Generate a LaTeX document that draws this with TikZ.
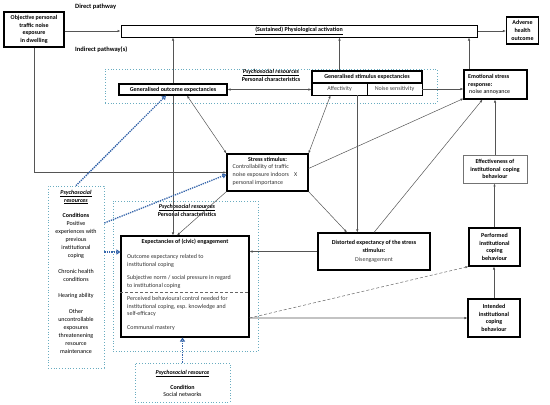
\documentclass[tikz,border=0pt]{standalone}
\usepackage{fontspec}
\setmainfont{Carlito}
\usepackage{amsmath}
\usetikzlibrary{arrows.meta}
\definecolor{resteal}{RGB}{105,172,192}
\definecolor{resblue}{RGB}{52,100,170}
\definecolor{linegray}{RGB}{85,85,85}
\definecolor{bargray}{RGB}{195,195,195}
\newcommand{\psyres}[1]{\underline{\textbf{\textit{#1}}}}

\begin{document}
\begin{tikzpicture}[x=1pt,y=-1pt,
                >={Latex[length=3pt,width=2.4pt]},
                every node/.style={font=\fontsize{6}{7.8}\selectfont, inner sep=0pt},
                box/.style={draw, line width=1.1pt, align=center},
                cellbox/.style={draw, line width=0.6pt, align=center, text=black!75},
                resbox/.style={draw=resteal, dotted, line width=0.8pt},
                link/.style={draw=linegray, line width=0.5pt},
                blink/.style={draw=resblue, densely dotted, line width=1.3pt, -{Triangle[open,length=4pt,width=5pt]}}]
                \useasboundingbox (0,0) rectangle (550,405);
                \node[anchor=west, font=\fontsize{6.5}{8}\selectfont\bfseries] (direct) at (75,7) {Direct pathway};
                \node[anchor=west, font=\fontsize{6.5}{8}\selectfont\bfseries] (indirect) at (75,50) {Indirect pathway(s)};
                \node[box, minimum width=60pt, minimum height=35pt, font=\fontsize{6}{7.7}\selectfont\bfseries] (obj) at (34,29.5) {Objective personal\\traffic noise\\exposure\\in dwelling};
                \node[box, line width=1pt, minimum width=356pt, minimum height=12pt] (phys) at (299,31) {\textbf{\underline{(Sustained) Physiological activation}}};
                \node[box, minimum width=32pt, minimum height=27pt, font=\fontsize{6}{7.8}\selectfont\bfseries] (adverse) at (522.5,30.5) {Adverse\\health\\outcome};
                \node[resbox, minimum width=332pt, minimum height=34pt] (topres) at (271,86) {};
                \node[align=center] (topreslabel) at (271,75.5) {\psyres{Psychosocial resources}\\[0.6pt]\textbf{Personal characteristics}};
                \node[box, minimum width=108pt, minimum height=11pt] (genout) at (173,89.5) {\textbf{Generalised outcome expectancies}};
                \node[box, minimum width=110pt, minimum height=12pt] (genstim) at (367,77) {\textbf{Generalised stimulus expectancies}};
                \node[cellbox, minimum width=55pt, minimum height=12pt] (affect) at (339.5,89) {Affectivity};
                \node[cellbox, minimum width=55pt, minimum height=12pt] (noise) at (394.5,89) {Noise sensitivity};
                \draw[line width=1.1pt] (genstim.north west) rectangle (noise.south east);
                \node[box, minimum width=63pt, minimum height=29pt] (emo) at (495.5,84.5) {};
                \node[anchor=west, align=left] (emotext) at (468,84.5) {\textbf{Emotional stress}\\\textbf{response:}\\[-0.5pt]\,noise annoyance};
                \node[box, minimum width=81pt, minimum height=37pt] (stress) at (267.5,172.5) {};
                \node (stresstitle) at (267.5,159) {\textbf{Stress stimulus:}};
                \node[anchor=west, align=left, text=black!80] (stresstext) at (232.5,175) {Controllability of traffic\\noise exposure indoors\hspace{5pt}X\\personal importance};
                \node[draw=black!55, line width=0.9pt, align=center, minimum width=64pt, minimum height=28pt, font=\fontsize{6}{7.8}\selectfont\bfseries] (eff) at (495,169) {Effectiveness of\\institutional\ \ coping\\behaviour};
                \node[resbox, minimum width=56pt, minimum height=182pt] (leftres) at (76,277) {};
                \node[anchor=north, align=center, font=\fontsize{6}{8}\selectfont] (leftreslabel) at (76,190) {\psyres{Psychosocial}\\\psyres{resources}\\[7pt]\textbf{Conditions}\\Positive\\experiences with\\previous\\institutional\\coping\\[8pt]Chronic health\\conditions\\[8pt]Hearing ability\\[8pt]Other\\uncontrollable\\exposures\\threatenening\\resource\\maintenance};
                \node[resbox, minimum width=145pt, minimum height=150pt] (midres) at (185.5,276) {};
                \node[align=center] (midreslabel) at (187,210.5) {\psyres{Psychosocial resources}\\[0.6pt]\textbf{Personal characteristics}};
                \node[box, minimum width=128pt, minimum height=101pt] (exp) at (185,286.5) {};
                \node (exptitle) at (185,242) {\textbf{Expectancies of (civic) engagement}};
                \node[anchor=west, align=left, text=black!80] (expa) at (127,261) {Outcome expectancy related to\\institutional coping};
                \node[anchor=west, align=left, text=black!80] (expb) at (127,282) {Subjective norm / social pressure in regard\\to institutional coping};
                \node[anchor=west, align=left, text=black!80] (expc) at (127,306.5) {Perceived behavioural control needed for\\institutional coping, esp. knowledge and\\self-efficacy};
                \node[anchor=west, align=left, text=black!80] (expd) at (127,328) {Communal mastery};
                \draw[black!60, densely dashed, line width=0.4pt] (exp.west |- 0,292) -- (exp.east |- 0,292);
                \node[box, minimum width=112pt, minimum height=37pt] (distorted) at (374,251.5) {\textbf{Distorted expectancy of the stress}\\\textbf{stimulus:}\\[2pt]{\color{black!75}Disengagement}};
                \node[box, minimum width=51pt, minimum height=38pt, font=\fontsize{6}{7.8}\selectfont\bfseries] (perf) at (494.5,247) {Performed\\institutional\\coping\\behaviour};
                \node[box, minimum width=52pt, minimum height=38pt, font=\fontsize{6}{7.8}\selectfont\bfseries] (intd) at (494,318) {Intended\\institutional\\coping\\behaviour};
                \node[resbox, minimum width=95pt, minimum height=39pt] (botres) at (182.5,382.5) {};
                \node[align=center] (botreslabel) at (182.5,383.5) {\psyres{Psychosocial resource}\\[7pt]\textbf{Condition}\\Social networks};
                \coordinate (gsdown) at ([xshift=-10pt]affect.south east);
                \coordinate (emoup) at ([xshift=-26.5pt]emo.north);
                \coordinate (lrone) at ([yshift=54pt]leftres.east);
                \coordinate (lrtwo) at ([yshift=25pt]leftres.east);
                \coordinate (expout) at (exp.east |- intd.west);
                \draw[link,->] (obj.east |- phys) -- (phys.west);
                \draw[link,->] (phys.east) -- (phys.east -| adverse.west);
                \draw[link,->] (genout.north) -- (genout.north |- phys.south);
                \draw[link,->] (affect.north |- genstim.north) -- (affect.north |- phys.south);
                \draw[link,->] (emoup) -- (emoup |- phys.south);
                \draw[link,<->] (genout.east) -- (genout.east -| genstim.west);
                \draw[link,->] (noise.east) -- (noise.east -| emo.west);
                \draw[link,<->] ([xshift=14pt]genout.south) -- (stress.north west);
                \draw[link,<->] ([xshift=-9pt]affect.south) -- (stress.north east);
                \draw[link,->] (genout.south) -- (genout.south |- exp.north);
                \draw[link,->] (gsdown) -- (gsdown |- distorted.north);
                \draw[link,->] (obj.south) |- (stress.west);
                \draw[link,->] ([yshift=4pt]stress.east) -- ([yshift=1pt]emo.south west);
                \draw[link,->] (stress.south west) -- ([xshift=-8pt]exp.north);
                \draw[link,->] (stress.south east) -- ([xshift=-27pt]distorted.north);
                \draw[link,->] (distorted.north) -- ([xshift=-13pt]emo.south);
                \draw[link,->] (distorted.west) -- (distorted.west -| exp.east);
                \draw[link,->] (eff.north) -- (eff.north |- emo.south);
                \draw[link,->] (perf.north) -- (perf.north |- eff.south);
                \draw[link,->] (intd.north) -- (intd.north |- perf.south);
                \draw[bargray, line width=1.5pt] (expout) -- ([xshift=-2pt]intd.west);
                \draw[link,->] ([xshift=-2.5pt]intd.west) -- (intd.west);
                \draw[link, black!60, densely dashed, ->] (expout) -- (perf.south west);
                \draw[blink] (leftres.north) -- ([xshift=-7pt]genout.south);
                \draw[blink] (lrone) -- ([yshift=-2pt]stress.west);
                \draw[blink] (lrtwo) -- (lrtwo -| exp.west);
                \draw[blink] (botres.north) -- (botres.north |- exp.south);
            \end{tikzpicture}
\end{document}
